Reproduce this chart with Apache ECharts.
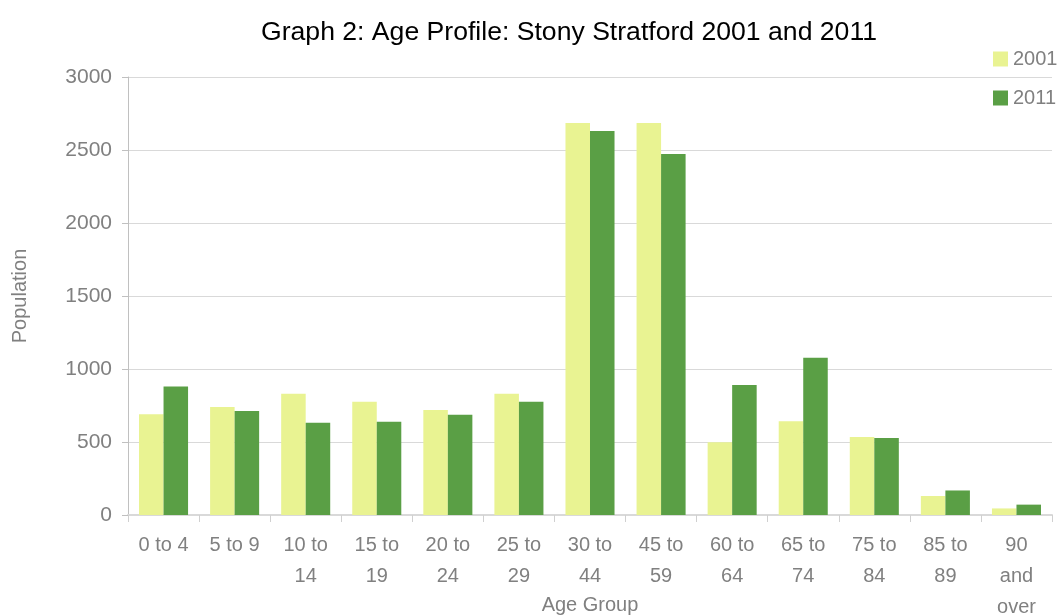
<!DOCTYPE html>
<html>
<head>
<meta charset="utf-8">
<script src="https://cdn.jsdelivr.net/npm/echarts@6/dist/echarts.min.js"></script>
<style>
  html, body { margin: 0; padding: 0; background: #fff; }
  #chart { width: 1057px; height: 615px; }
</style>
</head>
<body>
<div id="chart"></div>
<script>
// data
var ageGroups = ['0 to 4', '5 to 9', '10 to\n14', '15 to\n19', '20 to\n24', '25 to\n29',
                 '30 to\n44', '45 to\n59', '60 to\n64', '65 to\n74', '75 to\n84', '85 to\n89', '90\nand\nover'];
var pop2001 = [690, 740, 830, 775, 720, 830, 2685, 2685, 498, 642, 535, 130, 45];
var pop2011 = [880, 713, 632, 638, 686, 775, 2630, 2473, 890, 1077, 528, 168, 71];
var yTicks = [0, 500, 1000, 1500, 2000, 2500, 3000];

var font = 'Liberation Sans, Arial, sans-serif';
var grey = '#808080';

var chart = echarts.init(document.getElementById('chart'));

chart.setOption({
    animation: false,
    textStyle: { fontFamily: font },
    title: {
        text: 'Graph 2: Age Profile: Stony Stratford 2001 and 2011',
        left: 564,
        textAlign: 'center',
        top: 14,
        textStyle: { fontFamily: font, fontSize: 26.6, fontWeight: 'normal', color: '#000' }
    },
    legend: {
        orient: 'vertical',
        left: 988,
        top: 44,
        itemWidth: 15,
        itemHeight: 15,
        itemGap: 19,
        icon: 'rect',
        textStyle: { fontFamily: font, fontSize: 20, color: grey },
        data: ['2001', '2011']
    },
    grid: {
        left: 128,
        right: 5,
        top: 77,
        bottom: 100,
        outerBoundsMode: 'none'
    },
    xAxis: {
        type: 'category',
        data: ageGroups,
        name: 'Age Group',
        nameLocation: 'middle',
        nameGap: 80,
        nameMoveOverlap: false,
        nameTextStyle: { fontFamily: font, fontSize: 20, color: grey },
        axisLine: { lineStyle: { color: '#d9d9d9', width: 2 } },
        axisTick: { show: true, length: 7, lineStyle: { color: '#d0d0d0' } },
        axisLabel: {
            interval: 0,
            fontFamily: font,
            fontSize: 20,
            color: grey,
            lineHeight: 31,
            margin: 15
        }
    },
    yAxis: {
        type: 'value',
        min: 0,
        max: 3000,
        interval: 500,
        name: 'Population',
        nameLocation: 'middle',
        nameGap: 98,
        nameTextStyle: { fontFamily: font, fontSize: 20, color: grey },
        axisLine: { show: true, lineStyle: { color: '#c0c0c0' } },
        axisTick: { show: true, length: 6, lineStyle: { color: '#c0c0c0' } },
        axisLabel: {
            fontFamily: font,
            fontSize: 21,
            color: grey,
            margin: 16,
            formatter: function (v) { return yTicks.indexOf(v) >= 0 ? String(v) : ''; }
        },
        splitLine: { lineStyle: { color: '#d9d9d9' } }
    },
    series: [
        {
            name: '2001',
            type: 'bar',
            data: pop2001,
            barGap: '0%',
            barCategoryGap: '31%',
            itemStyle: { color: '#e9f392' }
        },
        {
            name: '2011',
            type: 'bar',
            data: pop2011,
            itemStyle: { color: '#5a9f45' }
        }
    ]
});
</script>
</body>
</html>
